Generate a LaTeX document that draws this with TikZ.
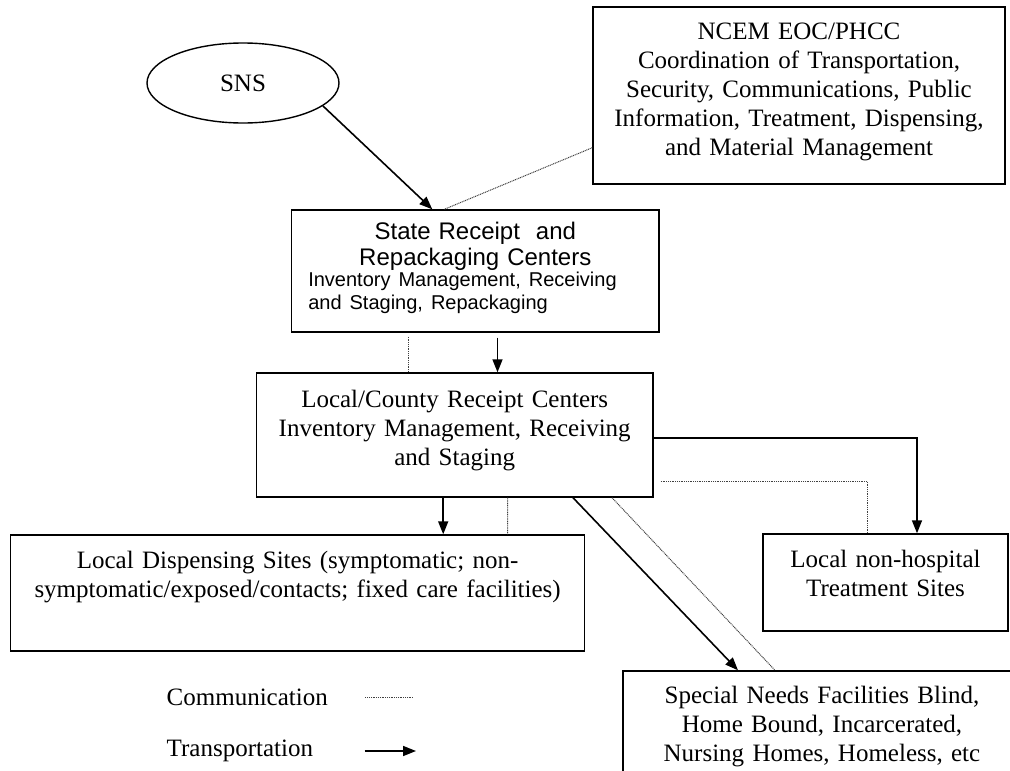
\documentclass[tikz,border=0pt]{standalone}
\usepackage{fontspec}
\setmainfont{Liberation Serif}
\newfontfamily\statefont{Liberation Sans}
\usetikzlibrary{arrows.meta, positioning, shapes.geometric}

\begin{document}
\begin{tikzpicture} [on grid,
			font=\fontsize{25}{29}\selectfont,
			box/.style={draw, line width=1.4pt, inner sep=0pt, align=center},
			trans/.style={-{Triangle[length=13pt,width=10pt]}, line width=1.6pt},
			comm/.style={dash pattern=on 1pt off 0.8pt, line width=1pt, black!75},
		]

		\useasboundingbox (0,0) rectangle (1010pt,-771pt);
		\clip (0,0) rectangle (1010pt,-771pt);

		% SNS 
		\node (sns) [ellipse, draw, line width=1.4pt,
			minimum width=192pt, minimum height=80pt, inner sep=0pt] at (243pt,-83pt) {SNS};
		% Boxes
		\node (ncem) [box,
			text width=412pt, text height=32pt, text depth=145pt,
			below right = 12.5pt and 556pt of sns] {NCEM EOC/PHCC\\Coordination of Transportation,\\Security, Communications, Public\\Information, Treatment, Dispensing,\\and Material Management};
		\node (state) [box, font=\statefont\fontsize{24}{26}\selectfont,
			text width=367.4pt, text height=29.3pt, text depth=92.7pt,
			below right = 188pt and 232.3pt of sns] {State Receipt\ \ and\\Repackaging Centers\\[-2pt]
			{\fontsize{20}{23}\selectfont\makebox[334pt][l]{Inventory Management, Receiving}\\[-3pt]
			\makebox[334pt][l]{and Staging, Repackaging}}};
		\node (local) [box,
			text width=396.6pt, text height=34pt, text depth=90pt,
			below left = 164pt and 20.6pt of state] {Local/County Receipt Centers\\Inventory Management, Receiving\\and Staging};
		\node (disp) [box,
			text width=573.8pt, text height=33pt, text depth=83pt,
			below left = 158pt and 157.1pt of local] {Local Dispensing Sites (symptomatic; non-\\symptomatic/exposed/contacts; fixed care facilities)};
		\node (treat) [box,
			text width=245pt, text height=33pt, text depth=64pt,
			below right = 147.5pt and 430.8pt of local] {Local non-hospital\\Treatment Sites};
		\node (special) [box,
			text width=398pt, text height=32pt, text depth=74pt,
			below right = 289pt and 367.3pt of local] {Special Needs Facilities Blind,\\Home Bound, Incarcerated,\\Nursing Homes, Homeless, etc};
		% Legend
		\node (commtext) [anchor=west, inner sep=0pt] at (166.5pt,-697pt) {Communication};
		\node (transtext) [anchor=west, inner sep=0pt] at (166.5pt,-751pt) {Transportation};

		% Transportation
		\draw [trans] (sns.-16) -- ([xshift=-43pt]state.north);
		\draw [trans] ([xshift=22.2pt,yshift=-5pt]state.south) -- ([xshift=42.8pt]local.north);
		\draw [trans] ([xshift=-11.5pt]local.south) -- ([xshift=145.6pt]disp.north);
		\draw [trans] ([yshift=-3pt]local.east) -| ([xshift=31.5pt]treat.north);
		\draw [trans] ([xshift=118.3pt]local.south) -- ([xshift=-84pt]special.north);
		% Communication
		\draw [comm] ([yshift=37pt]ncem.south west) -- ([xshift=-31pt]state.north);
		\draw [comm] ([xshift=-66.6pt,yshift=-4pt]state.south) -- ([xshift=-46pt]local.north);
		\draw [comm] ([xshift=52.8pt]local.south) -- ([xshift=209.9pt]disp.north);
		\draw [comm] ([xshift=7pt,yshift=-46pt]local.east) -| ([xshift=-18.5pt]treat.north);
		\draw [comm] ([xshift=157.3pt]local.south) -- ([xshift=-47pt]special.north);
		% Legend lines
		\draw [comm] ([xshift=37.4pt]commtext.east) -- ++(47pt,0);
		\draw [trans] ([xshift=51.5pt]transtext.east) -- ++(51.3pt,0);
	\end{tikzpicture}
\end{document}
